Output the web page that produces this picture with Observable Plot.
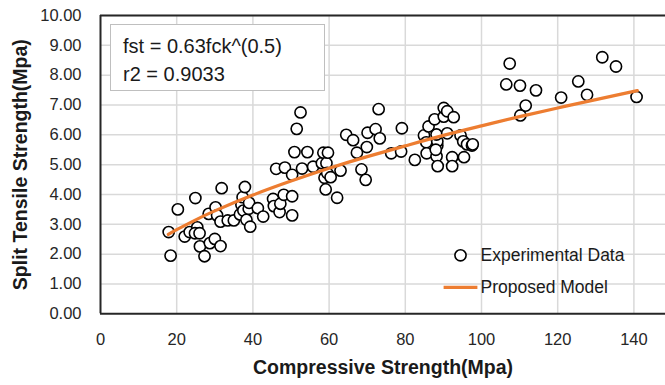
<!DOCTYPE html>
<html><head><meta charset="utf-8">
<script src="https://cdn.jsdelivr.net/npm/d3@7"></script>
<script src="https://cdn.jsdelivr.net/npm/@observablehq/plot@0.6"></script>
<style>
body{margin:0;background:#fff;}
#wrap{position:relative;width:665px;height:385px;overflow:hidden;font-family:"Liberation Sans",Arial,sans-serif;color:#1a1a1a;}
#eq{position:absolute;left:110px;top:24px;width:213px;height:65px;border:1.5px solid #bfbfbf;background:#fff;box-sizing:content-box;}
#eq div{position:absolute;left:12px;font-size:20px;white-space:nowrap;line-height:20px;}
.leg{position:absolute;font-size:17.5px;white-space:nowrap;line-height:18px;}
</style></head><body><div id="wrap"></div>
<script>
// Experimental data (compressive strength, split tensile strength)
const expX = [17.9,18.4,20.3,22.1,23.4,24.9,25.4,24.8,26.0,26.1,27.3,28.7,30.0,31.5,28.4,30.2,30.6,31.5,31.8,33.4,35.0,
  36.6,37.0,37.3,37.9,37.5,38.3,38.9,39.0,39.3,41.3,42.7,45.3,45.5,47.0,47.2,48.1,50.3,50.3,
  46.1,48.4,50.3,50.9,51.5,52.5,52.9,54.3,55.8,58.1,58.5,58.8,59.1,59.3,59.7,59.5,60.4,62.1,63.0,64.5,66.3,67.3,68.5,69.6,69.9,70.1,72.2,73.0,73.3,76.3,78.9,79.1,82.5,
  84.9,85.5,85.6,86.1,87.7,88.2,88.4,88.4,88.5,88.2,88.0,90.1,90.1,91.0,91.0,92.7,92.3,92.3,94.5,95.2,95.4,96.2,97.5,97.7,
  106.5,107.4,110.1,110.2,111.6,114.3,120.9,125.4,127.7,131.7,135.3,140.7];
const expY = [2.74,1.95,3.50,2.59,2.74,3.88,2.90,2.70,2.70,2.26,1.93,2.37,2.51,2.27,3.35,3.57,3.30,3.09,4.21,3.13,3.13,
  3.33,3.65,3.91,4.25,3.46,3.15,3.52,3.72,2.92,3.54,3.26,3.85,3.61,3.41,3.69,3.99,3.94,3.30,
  4.86,4.90,4.66,5.42,6.20,6.75,4.87,5.42,4.93,5.05,5.40,4.56,4.17,5.05,5.40,4.72,4.58,3.89,4.80,6.00,5.82,5.40,4.84,4.49,5.59,6.07,6.19,6.86,5.88,5.38,5.44,6.22,5.16,
  5.98,5.75,5.38,6.28,6.52,5.28,5.64,5.78,4.95,6.01,5.50,6.61,6.90,6.79,6.05,6.59,5.25,4.95,5.98,5.78,5.25,5.68,5.64,5.68,
  7.69,8.39,7.65,6.65,6.98,7.49,7.25,7.79,7.34,8.60,8.29,7.27];
// Proposed model curve
const modelX = [17.8,20,25,30,40,50,60,70,80,90,100,110,120,130,140.9];
const modelY = [2.66,2.82,3.15,3.45,3.98,4.45,4.88,5.27,5.63,5.98,6.30,6.61,6.90,7.18,7.48];
const xTicks = [0,20,40,60,80,100,120,140];
const yTicks = [0,1,2,3,4,5,6,7,8,9,10];
const xTitle = "Compressive Strength(Mpa)";
const yTitle = "Split Tensile Strength(Mpa)";
const equationLines = ["fst = 0.63fck^(0.5)", "r2 = 0.9033"];
const legendLabels = ["Experimental Data", "Proposed Model"];

const exp = expX.map((x, i) => ({x, y: expY[i]}));
const model = modelX.map((x, i) => ({x, y: modelY[i]}));
const orange = "#ED7D31";
const gridStyle = {stroke: "#d9d9d9", strokeOpacity: 1, strokeWidth: 1.5};

const chart = Plot.plot({
  width: 665, height: 385,
  marginLeft: 100, marginTop: 15, marginBottom: 71.7, marginRight: 0,
  style: {fontFamily: '"Liberation Sans", Arial, sans-serif', background: "white", color: "#262626"},
  x: {domain: [0, 150], range: [100, 671.5]},
  y: {domain: [0, 10], range: [313.3, 15]},
  marks: [
    Plot.gridX(xTicks.filter(d => d > 0), gridStyle),
    Plot.gridY(yTicks.filter(d => d > 0), gridStyle),
    Plot.axisX(xTicks, {tickSize: 0, tickPadding: 19, fontSize: 16.5, label: null}),
    Plot.axisY(yTicks, {tickSize: 0, tickPadding: 19, fontSize: 16.5, label: null, tickFormat: d => d.toFixed(2)}),
    Plot.ruleX([0], {stroke: "#262626", strokeWidth: 2}),
    Plot.ruleY([0, 10], {stroke: "#262626", strokeWidth: 2}),
    Plot.dot(exp, {x: "x", y: "y", r: 5.6, stroke: "#000", strokeWidth: 1.6, fill: "white"}),
    Plot.line(model, {x: "x", y: "y", stroke: orange, strokeWidth: 3.2, curve: "natural"}),
    Plot.text([xTitle], {frameAnchor: "bottom", dy: 60, fontSize: 19.5, fontWeight: "bold", fill: "#1a1a1a"}),
    Plot.text([yTitle], {frameAnchor: "left", textAnchor: "middle", dx: -80, rotate: -90, fontSize: 19.5, fontWeight: "bold", fill: "#1a1a1a"})
  ]
});
const wrap = document.getElementById("wrap");
wrap.appendChild(chart);

// Equation box
const eq = document.createElement("div");
eq.id = "eq";
equationLines.forEach((t, i) => {
  const d = document.createElement("div");
  d.textContent = t;
  d.style.top = (11 + i * 28) + "px";
  eq.appendChild(d);
});
wrap.appendChild(eq);

// Legend
const legSvg = `<svg width="665" height="385" style="position:absolute;left:0;top:0;pointer-events:none">
<circle cx="460.5" cy="255.3" r="5.6" fill="white" stroke="#000" stroke-width="1.6"/>
<line x1="443.6" x2="477.4" y1="287.3" y2="287.3" stroke="${orange}" stroke-width="3.2"/></svg>`;
wrap.insertAdjacentHTML("beforeend", legSvg);
legendLabels.forEach((t, i) => {
  const d = document.createElement("div");
  d.className = "leg";
  d.textContent = t;
  d.style.left = "480.5px";
  d.style.top = (246.3 + i * 32) + "px";
  wrap.appendChild(d);
});
</script>
</body></html>
